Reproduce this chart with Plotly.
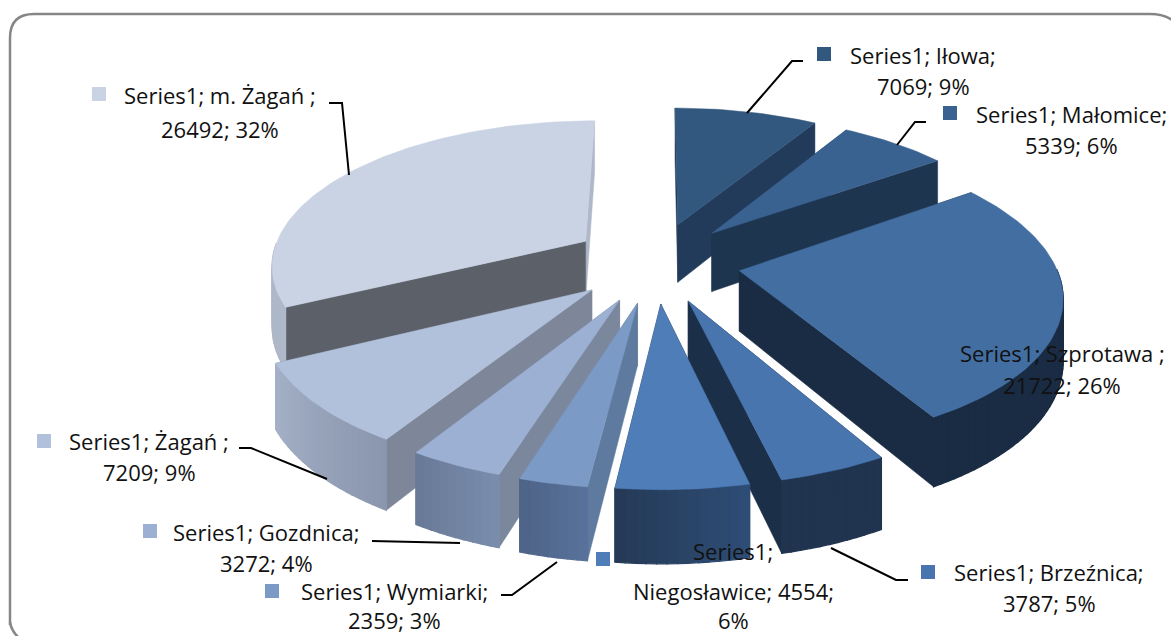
import math
import plotly.graph_objects as go

# ---- data ----
categories = ["Iłowa", "Małomice", "Szprotawa", "Brzeźnica", "Niegosławice",
              "Wymiarki", "Gozdnica", "Żagań", "m. Żagań"]
values = [7069, 5339, 21722, 3787, 4554, 2359, 3272, 7209, 26492]
top_colors = ["#33587F", "#3A6290", "#426EA1", "#4875AE", "#4E7DB8",
              "#7C9AC6", "#9BB0D2", "#B2C1DB", "#C9D3E4"]
rim_start = ["#2A4A70", "#24405F", "#1A2C44", "#20344F", "#2E4D75",
             "#58719A", "#7A8CAB", "#8A97AE", "#AEB8C8"]
rim_end = ["#2A4A70", "#24405F", "#1A2C44", "#20344F", "#253A57",
           "#4E6488", "#687A98", "#A3B0C6", "#AEB8C8"]
edge_first = ["#1E3654", "#1E3550", "#1A2C44", "#1C2F48", "#1C2F48",
              "#5F7A9F", "#7A879C", "#7D8799", "#5C6069"]
edge_last = ["#223B5B", "#1E3550", "#1A2C44", "#1C2F48", "#1C2F48",
             "#7A879C", "#7D8799", "#7D8799", "#AEB8C8"]

label_lines = [
    ["Series1; Iłowa;", "7069; 9%"],
    ["Series1; Małomice;", "5339; 6%"],
    ["Series1; Szprotawa ;", "21722; 26%"],
    ["Series1; Brzeźnica;", "3787; 5%"],
    ["Series1;", "Niegosławice; 4554;", "6%"],
    ["Series1; Wymiarki;", "2359; 3%"],
    ["Series1; Gozdnica;", "3272; 4%"],
    ["Series1; Żagań ;", "7209; 9%"],
    ["Series1; m. Żagań ;", "26492; 32%"],
]
label_x = [923, 1071, 1062, 1049, 733, 394, 266, 149, 220]
label_y = [[55, 86], [114, 145], [353, 385], [572, 603], [551, 591, 620],
           [591, 620], [532, 563], [441, 472], [95, 129]]
key_x = [824, 950, None, 928, 603, 272, 150, 44, 99]
key_y = [54, 113, None, 572, 559, 591, 531, 441, 94]
leader_x = [[803, 792, 747], [926, 915, 897], None, [908, 896, 831], None,
            [501, 512, 557], [372, 460], [239, 251, 327], [329, 342, 349]]
leader_y = [[61, 61, 113], [122, 122, 145], None, [580, 580, 548], None,
            [595, 595, 562], [541, 543], [448, 448, 479], [103, 103, 175]]

# ---- projection of the exploded pie ----
CX, CY, RX, RY, PERSP, EXPLODE, DEPTH = 656, 262, 325, 155, 0.16, 0.26, 60
RADIUS_U, RADIUS_V = 0.97, 0.93
total = sum(values)


def project(u, v, drop=0.0):
    s = 1 / (1 + PERSP * v)
    return CX + RX * u * s, CY - RY * v * s + drop * s


def blend(c1, c2, t):
    a = [int(c1[i:i + 2], 16) for i in (1, 3, 5)]
    b = [int(c2[i:i + 2], 16) for i in (1, 3, 5)]
    return "#%02X%02X%02X" % tuple(round(p + (q - p) * t) for p, q in zip(a, b))


fig = go.Figure()


def poly(points, color, width=0.5):
    xs = [p[0] for p in points] + [points[0][0]]
    ys = [p[1] for p in points] + [points[0][1]]
    fig.add_trace(go.Scatter(x=xs, y=ys, mode="lines", fill="toself", fillcolor=color,
                             line=dict(color=color, width=width), hoverinfo="skip",
                             showlegend=False))


slices = []
acc = 0
for i, val in enumerate(values):
    a1 = acc / total * 2 * math.pi
    acc += val
    a2 = acc / total * 2 * math.pi
    mid = (a1 + a2) / 2
    slices.append((i, a1, a2, EXPLODE * math.sin(mid), EXPLODE * math.cos(mid)))

# painter's order: back slices first
for i, a1, a2, ox, oy in sorted(slices, key=lambda r: -r[4]):
    n = max(6, int((a2 - a1) * 40))
    angs = [a1 + (a2 - a1) * k / n for k in range(n + 1)]
    rim = [(ox + RADIUS_U * math.sin(a), oy + RADIUS_V * math.cos(a)) for a in angs]
    # radial walls, the one further back first
    walls = sorted([(rim[0], edge_first[i]), (rim[-1], edge_last[i])], key=lambda w: -w[0][1])
    for (u, v), col in walls:
        poly([project(ox, oy), project(u, v), project(u, v, DEPTH), project(ox, oy, DEPTH)], col)
    # outer wall strips, only the part that faces the viewer
    for k in range(n):
        if math.cos((angs[k] + angs[k + 1]) / 2) > 0:
            continue
        col = blend(rim_start[i], rim_end[i], k / max(1, n - 1))
        (u0, v0), (u1, v1) = rim[k], rim[k + 1]
        poly([project(u0, v0), project(u1, v1), project(u1, v1, DEPTH), project(u0, v0, DEPTH)], col, 1.2)
    # top face
    poly([project(ox, oy)] + [project(u, v) for u, v in rim], top_colors[i])

# leader lines
for lx, ly in zip(leader_x, leader_y):
    if lx:
        fig.add_trace(go.Scatter(x=lx, y=ly, mode="lines", line=dict(color="#000000", width=2),
                                 hoverinfo="skip", showlegend=False))

shapes = [dict(type="path", xref="x", yref="y",
               path="M 10 625 L 10 38 Q 10 14 34 14 L 1150 14 Q 1165 14 1175 22",
               line=dict(color="#868686", width=2.5))]
for kx, ky, col in zip(key_x, key_y, top_colors):
    if kx is not None:
        shapes.append(dict(type="rect", xref="x", yref="y", x0=kx - 7, x1=kx + 7,
                           y0=ky - 7, y1=ky + 7, fillcolor=col, line=dict(width=0), layer="above"))
shapes.append(dict(type="path", xref="x", yref="y", path="M 10 622 Q 11 630 18 637",
                   line=dict(color="#868686", width=2.5)))

annotations = []
for lines, x, ys in zip(label_lines, label_x, label_y):
    for text, y in zip(lines, ys):
        annotations.append(dict(x=x, y=y, xref="x", yref="y", text=text, showarrow=False,
                                xanchor="center", yanchor="middle",
                                font=dict(family="Open Sans", size=22, color="#111111")))

fig.update_layout(
    width=1171, height=636, margin=dict(l=0, r=0, t=0, b=0),
    paper_bgcolor="#FFFFFF", plot_bgcolor="#FFFFFF", showlegend=False,
    xaxis=dict(range=[0, 1171], visible=False, fixedrange=True),
    yaxis=dict(range=[636, 0], visible=False, fixedrange=True),
    shapes=shapes, annotations=annotations,
)
fig.write_html("out.html", config=dict(displayModeBar=False),
               post_script="document.body.style.margin='0';document.body.style.overflow='hidden';")
